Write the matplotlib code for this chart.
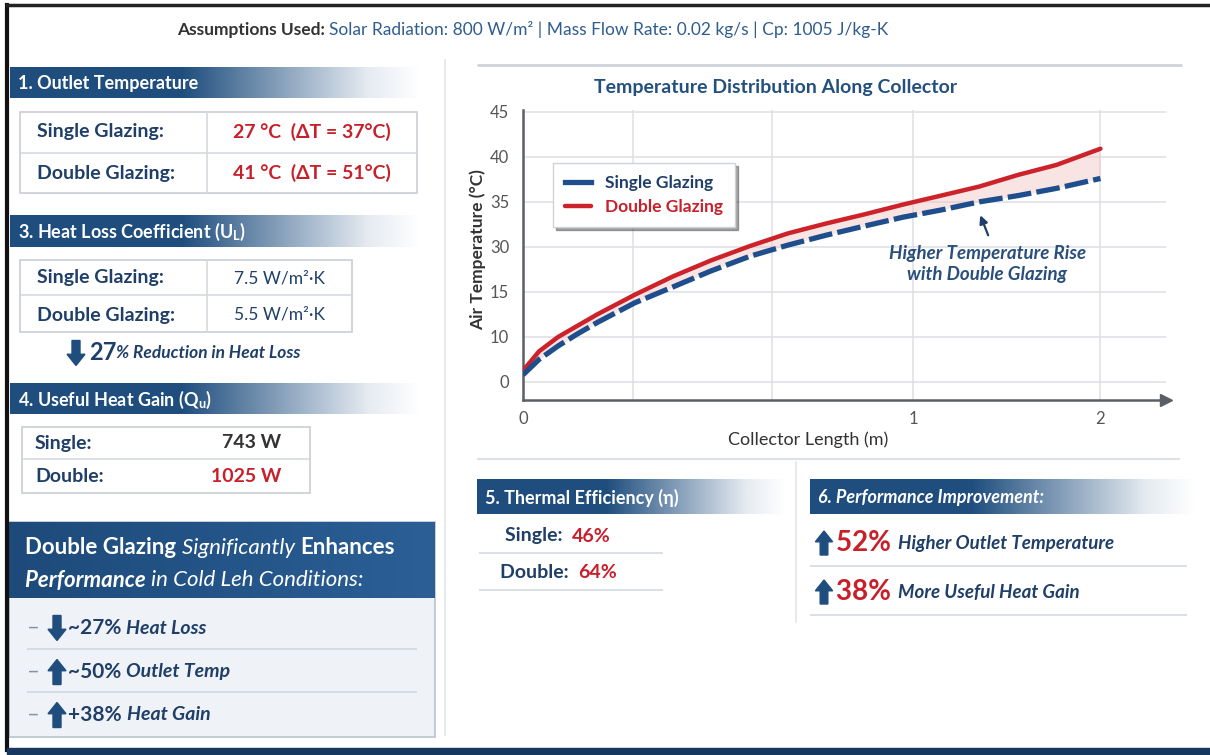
import numpy as np
import matplotlib
matplotlib.use('Agg')
import matplotlib.pyplot as plt
import matplotlib.colors as mcolors
from matplotlib.patches import Rectangle, Polygon

plt.rcParams['font.family'] = ['Lato', 'DejaVu Sans']
plt.rcParams['mathtext.fontset'] = 'custom'
plt.rcParams['mathtext.rm'] = 'Lato'
plt.rcParams['mathtext.bf'] = 'Lato:bold'
plt.rcParams['mathtext.it'] = 'Lato:italic'

# temperature profile along the collector
length_m = [0, 0.041, 0.09, 0.138, 0.19, 0.287, 0.385, 0.482, 0.582, 0.679,
            0.777, 0.874, 0.974, 1.15, 1.353, 1.561, 1.765, 2.0]
temp_double = [2.5, 6.8, 10.0, 11.2, 12.5, 14.7, 20.2, 25.5, 30.1, 31.5,
               32.6, 33.6, 34.7, 35.7, 36.7, 38.0, 39.1, 40.9]
temp_single = [1.6, 5.0, 8.0, 10.3, 11.6, 13.8, 16.7, 22.0, 26.9, 30.2,
               31.3, 32.3, 33.3, 34.1, 35.0, 35.7, 36.5, 37.6]

temp_ticks = [0, 10, 15, 30, 35, 40, 45]
length_ticks = [0, 1, 2]
length_minor = [0.282, 0.638]

# summary panels
glazing_labels = ['Single Glazing:', 'Double Glazing:']
outlet_text = ['27 °C  (ΔT = 37°C)', '41 °C  (ΔT = 51°C)']
ul_text = ['7.5 W/m²·K', '5.5 W/m²·K']
gain_labels = ['Single:', 'Double:']
gain_text = ['743 W', '1025 W']
eff_labels = ['Single:', 'Double:']
eff_text = ['46%', '64%']
improve_pct = ['52%', '38%']
improve_text = ['Higher Outlet Temperature', 'More Useful Heat Gain']
summary_dirs = ['down', 'up', 'up']
summary_pct = ['~27%', '~50%', '+38%']
summary_text = ['Heat Loss', 'Outlet Temp', 'Heat Gain']

NAVY = '#1f4e7e'
NAVY_TXT = '#1f3f68'
RED = '#c8202b'
GRID = '#dcdfe3'

fig = plt.figure(figsize=(12.1, 7.55), dpi=100)
bg = fig.add_axes([0, 0, 1, 1])
bg.set_xlim(0, 1210)
bg.set_ylim(755, 0)
bg.axis('off')
renderer = fig.canvas.get_renderer()


def header_bar(x0, x1, y0, y1, label, italic=False):
    t = np.linspace(0, 1, 400)
    c0 = np.array(mcolors.to_rgb(NAVY))
    c1 = np.array(mcolors.to_rgb('#e3e9f0'))
    w = np.clip((t - 0.42) / 0.45, 0, 1)
    rgb = c0[None, :] * (1 - w[:, None]) + c1[None, :] * w[:, None]
    alpha = np.clip((1 - t) / 0.14, 0, 1)
    img = np.concatenate([rgb, alpha[:, None]], axis=1)[None, :, :]
    bg.imshow(img, extent=(x0, x1, y1, y0), aspect='auto',
              interpolation='bilinear', zorder=1)
    bg.text(x0 + 8, (y0 + y1) / 2 + 1, label, color='white', fontsize=13,
            fontweight='bold', style='italic' if italic else 'normal',
            va='center', ha='left', zorder=2)


def block_arrow(x, y, h, up=True, color=NAVY):
    # x, y = centre of the arrow, h = total height in pixels
    sw, hw, hl = h * 0.16, h * 0.36, h * 0.45
    s = -1 if up else 1
    tip = y + s * h / 2
    base = y - s * h / 2
    neck = tip - s * hl
    pts = [(x - sw, base), (x - sw, neck), (x - hw, neck), (x, tip),
           (x + hw, neck), (x + sw, neck), (x + sw, base)]
    bg.add_patch(Polygon(pts, closed=True, color=color, zorder=3))


def text_runs(x, y, runs):
    for s, kw in runs:
        t = bg.text(x, y, s, va='center', ha='left', zorder=3, **kw)
        x += t.get_window_extent(renderer=renderer).width
    return x


def box(x0, y0, x1, y1, fc='white', ec='#c9cdd3', lw=1.2):
    bg.add_patch(Rectangle((x0, y0), x1 - x0, y1 - y0, facecolor=fc,
                           edgecolor=ec, lw=lw, zorder=1))


def hline(x0, x1, y, color='#d5d9de', lw=1.2):
    bg.plot([x0, x1], [y, y], color=color, lw=lw, zorder=2,
            solid_capstyle='butt')


# outer frame
bg.plot([7, 7], [5, 750], color='#111111', lw=3, zorder=5)
bg.plot([7, 1210], [5, 5], color='#222222', lw=2.5, zorder=5)
bg.add_patch(Rectangle((7, 748), 1203, 7, color='#16385e', zorder=5))

# assumptions line
text_runs(177, 30, [
    ('Assumptions Used: ', dict(fontsize=12.5, fontweight='bold', color='#333333')),
    ('Solar Radiation: 800 W/m² | Mass Flow Rate: 0.02 kg/s | Cp: 1005 J/kg-K',
     dict(fontsize=12.5, color='#2e5d8e')),
])

# panel frame lines
hline(477, 1182, 65, color='#cfd4da', lw=2)
hline(477, 1180, 459, color='#dde1e5', lw=1.5)
bg.plot([445, 445], [60, 735], color='#e3e6ea', lw=1.2, zorder=1)
bg.plot([796, 796], [462, 622], color='#e3e6ea', lw=1.2, zorder=1)

# 1. outlet temperature
header_bar(10, 420, 67, 98, '1. Outlet Temperature')
box(20, 112, 417, 193)
hline(20, 417, 153)
bg.plot([207, 207], [112, 193], color='#d5d9de', lw=1.2, zorder=2)
for i, y in enumerate([132, 173]):
    bg.text(37, y, glazing_labels[i], fontsize=14, fontweight='bold',
            color=NAVY_TXT, va='center', zorder=3)
    bg.text(233, y, outlet_text[i], fontsize=14, fontweight='bold',
            color=RED, va='center', zorder=3)

# 3. heat loss coefficient
header_bar(10, 420, 215, 247, '3. Heat Loss Coefficient (U$_\\mathbf{L}$)')
box(20, 260, 352, 332)
hline(20, 352, 295)
bg.plot([207, 207], [260, 332], color='#d5d9de', lw=1.2, zorder=2)
for i, y in enumerate([278, 315]):
    bg.text(37, y, glazing_labels[i], fontsize=14, fontweight='bold',
            color=NAVY_TXT, va='center', zorder=3)
    bg.text(279, y, ul_text[i], fontsize=12.5, color=NAVY_TXT,
            va='center', ha='center', zorder=3)
block_arrow(76, 353, 25, up=False)
text_runs(89, 353, [
    ('27', dict(fontsize=17, fontweight='bold', color=NAVY_TXT)),
    ('% Reduction in Heat Loss', dict(fontsize=12.5, fontweight='bold',
                                      style='italic', color=NAVY_TXT)),
])

# 4. useful heat gain
header_bar(10, 420, 383, 414, '4. Useful Heat Gain (Q$_\\mathbf{u}$)')
box(22, 427, 310, 493)
hline(22, 310, 459)
for i, y in enumerate([443, 477]):
    bg.text(35, y, gain_labels[i], fontsize=14, fontweight='bold',
            color=NAVY_TXT, va='center', zorder=3)
    bg.text(281, y, gain_text[i], fontsize=14, fontweight='bold',
            color='#333333' if i == 0 else RED, va='center', ha='right',
            zorder=3)

# summary box
box(9, 522, 435, 737, fc='#eff2f6', ec='#b9c2cc')
hdr = np.linspace(0, 1, 200)
c_a = np.array(mcolors.to_rgb('#1d4a7a'))
c_b = np.array(mcolors.to_rgb('#2b5f96'))
grad = c_a[None, :] * (1 - hdr[:, None]) + c_b[None, :] * hdr[:, None]
bg.imshow(grad[None, :, :], extent=(9, 435, 598, 522), aspect='auto', zorder=2)
text_runs(25, 548, [
    ('Double Glazing ', dict(fontsize=16, fontweight='bold', color='white')),
    ('Significantly ', dict(fontsize=16, style='italic', color='white')),
    ('Enhances', dict(fontsize=16, fontweight='bold', color='white')),
])
text_runs(25, 580, [
    ('Performance ', dict(fontsize=16, fontweight='bold', style='italic',
                          color='white')),
    ('in Cold Leh Conditions:', dict(fontsize=16, style='italic',
                                     color='white')),
])
for i, y in enumerate([628, 672, 715]):
    bg.text(27, y, '–', fontsize=16, color='#8a929c', va='center', zorder=3)
    block_arrow(57, y, 25, up=(summary_dirs[i] == 'up'))
    text_runs(68, y, [
        (summary_pct[i] + ' ', dict(fontsize=15, fontweight='bold',
                                    color=NAVY_TXT)),
        (summary_text[i], dict(fontsize=14, fontweight='bold', style='italic',
                               color=NAVY_TXT)),
    ])
hline(27, 417, 649, color='#d2d8df')
hline(27, 417, 692, color='#d2d8df')

# 5. thermal efficiency
header_bar(477, 785, 479, 514, '5. Thermal Efficiency (η)')
for i, y in enumerate([536, 572]):
    text_runs(505 if i == 0 else 500, y, [
        (eff_labels[i] + '  ', dict(fontsize=14, fontweight='bold',
                                     color=NAVY_TXT)),
        (eff_text[i], dict(fontsize=14, fontweight='bold', color=RED)),
    ])
hline(479, 663, 553)
hline(479, 663, 590)

# 6. performance improvement
header_bar(810, 1195, 479, 514, '6. Performance Improvement:', italic=True)
for i, y in enumerate([543, 592]):
    block_arrow(824, y, 24, up=True)
    text_runs(836, y, [
        (improve_pct[i] + ' ', dict(fontsize=20, fontweight='bold', color=RED)),
        (improve_text[i], dict(fontsize=13.5, fontweight='bold', style='italic',
                               color=NAVY_TXT)),
    ])
hline(810, 1187, 566)
hline(810, 1187, 615)

# temperature chart
y_pos = [-1, 0, 1, 2, 3, 4, 5, 6, 7]
y_val = [-10] + temp_ticks + [50]
x_val = [-1, 0, 1, 2, 3]
x_pos = [-1, 0, 1, 1.48, 1.96]

ax = fig.add_axes([523 / 1210, (755 - 400) / 755, 643 / 1210, 290 / 755])
ax.set_facecolor('none')
ax.set_yscale('function', functions=(lambda v: np.interp(v, y_val, y_pos),
                                     lambda p: np.interp(p, y_pos, y_val)))
ax.set_xscale('function', functions=(lambda v: np.interp(v, x_val, x_pos),
                                     lambda p: np.interp(p, x_pos, x_val)))
ax.set_xlim(0, 2.35)
ax.set_ylim(-4, 45.2)
ax.set_yticks(temp_ticks)
ax.set_yticklabels([str(t) for t in temp_ticks])
ax.set_xticks(length_ticks)
ax.set_xticklabels([str(t) for t in length_ticks])
ax.set_xticks(length_minor, minor=True)
ax.tick_params(which='both', length=0, labelsize=12, labelcolor='#555555')
ax.tick_params(axis='y', pad=10)
ax.tick_params(axis='x', pad=8)
ax.grid(True, which='both', color=GRID, lw=1.1)
ax.set_axisbelow(True)
for side in ['top', 'right']:
    ax.spines[side].set_visible(False)
for side in ['left', 'bottom']:
    ax.spines[side].set_color('#5a5f66')
    ax.spines[side].set_linewidth(1.8)
ax.plot(1, 0, '>', color='#5a5f66', ms=8, transform=ax.transAxes,
        clip_on=False)

ax.fill_between(length_m, temp_single, temp_double, color='#f2c4c4',
                alpha=0.45, lw=0, zorder=2)
red_line, = ax.plot(length_m, temp_double, color='#cc2229', lw=3.2,
                    zorder=3, label='Double Glazing', solid_capstyle='round',
                    solid_joinstyle='round')
blue_line, = ax.plot(length_m, temp_single, color='#1e4f8c', lw=3.8,
                     zorder=4, label='Single Glazing', dashes=(4.5, 1.0))

leg = ax.legend(handles=[blue_line, red_line], loc='upper left',
                bbox_to_anchor=(0.047, 0.817), borderaxespad=0,
                frameon=True, shadow=True, fancybox=False, edgecolor='#cfd3d8',
                prop=dict(size=12.5, weight='bold'), handlelength=1.5,
                borderpad=0.7, labelspacing=0.45)
leg.get_texts()[0].set_color(NAVY_TXT)
leg.get_texts()[1].set_color(RED)
leg.get_lines()[0].set_linestyle('-')

ax.annotate('', xy=(1.353, 33.8), xytext=(1.406, 31.0),
            arrowprops=dict(arrowstyle='-|>', color='#1f3f68', lw=1.6,
                            mutation_scale=12))
ax.text(1.396, 24.3, 'Higher Temperature Rise\nwith Double Glazing',
        ha='center', va='center', fontsize=13.5, fontweight='bold',
        style='italic', color='#2a4f7c', linespacing=1.25)

fig.text(776 / 1210, 1 - 88 / 755, 'Temperature Distribution Along Collector',
         ha='center', va='center', fontsize=14, fontweight='bold',
         color='#24507f')
fig.text(478 / 1210, 1 - 250 / 755, 'Air Temperature (°C)', rotation=90,
         ha='center', va='center', fontsize=12.5, fontweight='bold',
         color='#333333')
fig.text(808 / 1210, 1 - 440 / 755, 'Collector Length (m)', ha='center',
         va='center', fontsize=13, color='#333333')

fig.savefig('out.png', dpi=100)
